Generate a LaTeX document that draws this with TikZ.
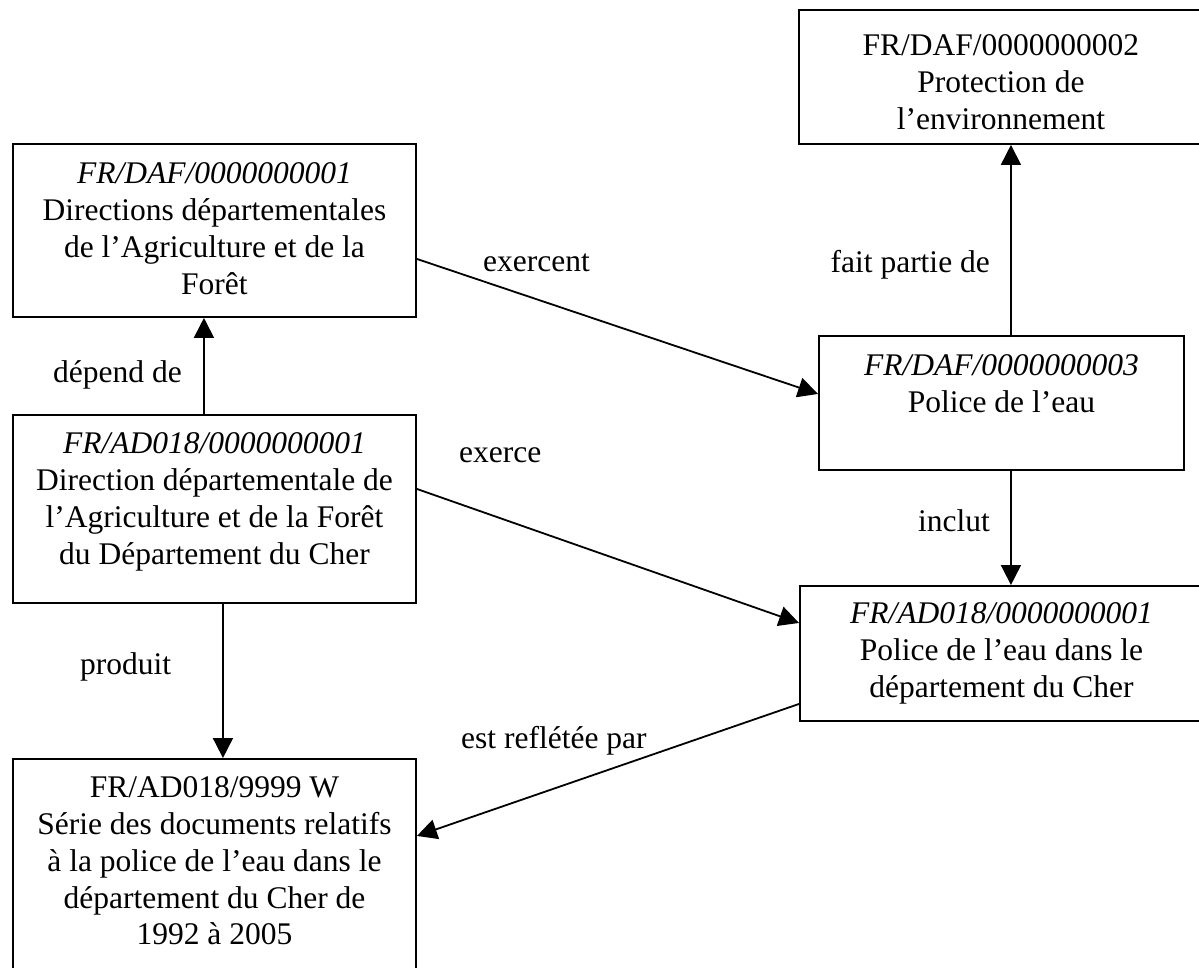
\documentclass[tikz,border=0pt]{standalone}
\usepackage{fontspec}
\setmainfont{Liberation Serif}
\usetikzlibrary{arrows.meta}
\newcommand\boxtext[4]{\parbox[c][#2][t]{#1}{\centering\rule{0pt}{#3}#4}}
\begin{document}
\begin{tikzpicture}[x=1pt,y=-1pt,
  box/.style={draw, line width=1.9pt, inner sep=0pt, anchor=north west, font=\fontsize{31.5}{36.7}\selectfont},
  arr/.style={line width=1.8pt, -{Triangle[length=20pt,width=20pt]}},
  lbl/.style={font=\fontsize{31.5}{36.7}\selectfont, inner sep=0pt}]
\useasboundingbox (0,0) rectangle (1199,967);
\fill[white] (0,0) rectangle (1199,967);
\clip (0,0) rectangle (1199,967);
\node[box] (A) at (798,9) {\boxtext{404pt}{134pt}{46pt}{FR/DAF/0000000002\\Protection de\\l’environnement}};
\node[box] (B) at (12,143) {\boxtext{403pt}{173pt}{40pt}{\textit{FR/DAF/0000000001}\\Directions départementales\\de l’Agriculture et de la\\Forêt}};
\node[box] (C) at (818,335) {\boxtext{365pt}{134pt}{40pt}{\textit{FR/DAF/0000000003}\\Police de l’eau}};
\node[box] (D) at (12,414) {\boxtext{403pt}{188pt}{39pt}{\textit{FR/AD018/0000000001}\\Direction départementale de\\l’Agriculture et de la Forêt\\du Département du Cher}};
\node[box] (E) at (799,585) {\boxtext{403pt}{135pt}{38pt}{\textit{FR/AD018/0000000001}\\Police de l’eau dans le\\département du Cher}};
\node[box] (F) at (12,758) {\boxtext{403pt}{235pt}{39pt}{FR/AD018/9999 W\\Série des documents relatifs\\à la police de l’eau dans le\\département du Cher de\\1992 à 2005}};
\draw[arr] ([xshift=-10.5pt]D.north) -- ([xshift=-10.5pt]B.south);
\draw[arr] ([yshift=-28.5pt]B.east) -- ([yshift=9pt]C.west);
\draw[arr] ([xshift=9.5pt]C.north) -- ([xshift=10pt]A.south);
\draw[arr] ([xshift=9.5pt]C.south) -- ([xshift=9.5pt]E.north);
\draw[arr] ([yshift=20pt]D.east) -- ([yshift=30.5pt]E.west);
\draw[arr] ([xshift=8.5pt]D.south) -- ([xshift=8.5pt]F.north);
\draw[arr] ([yshift=-50.5pt]E.west) -- ([yshift=40.5pt]F.east);
\node[lbl, anchor=base east] (l1) at (182,382) {dépend de};
\node[lbl, anchor=base west] (l2) at (483,271) {exercent};
\node[lbl, anchor=base east] (l3) at (990,272) {fait partie de};
\node[lbl, anchor=base east] (l4) at (990,531) {inclut};
\node[lbl, anchor=base west] (l5) at (459,462) {exerce};
\node[lbl, anchor=base west] (l6) at (80,674) {produit};
\node[lbl, anchor=base west] (l7) at (461,748) {est reflétée par};
\end{tikzpicture}
\end{document}
